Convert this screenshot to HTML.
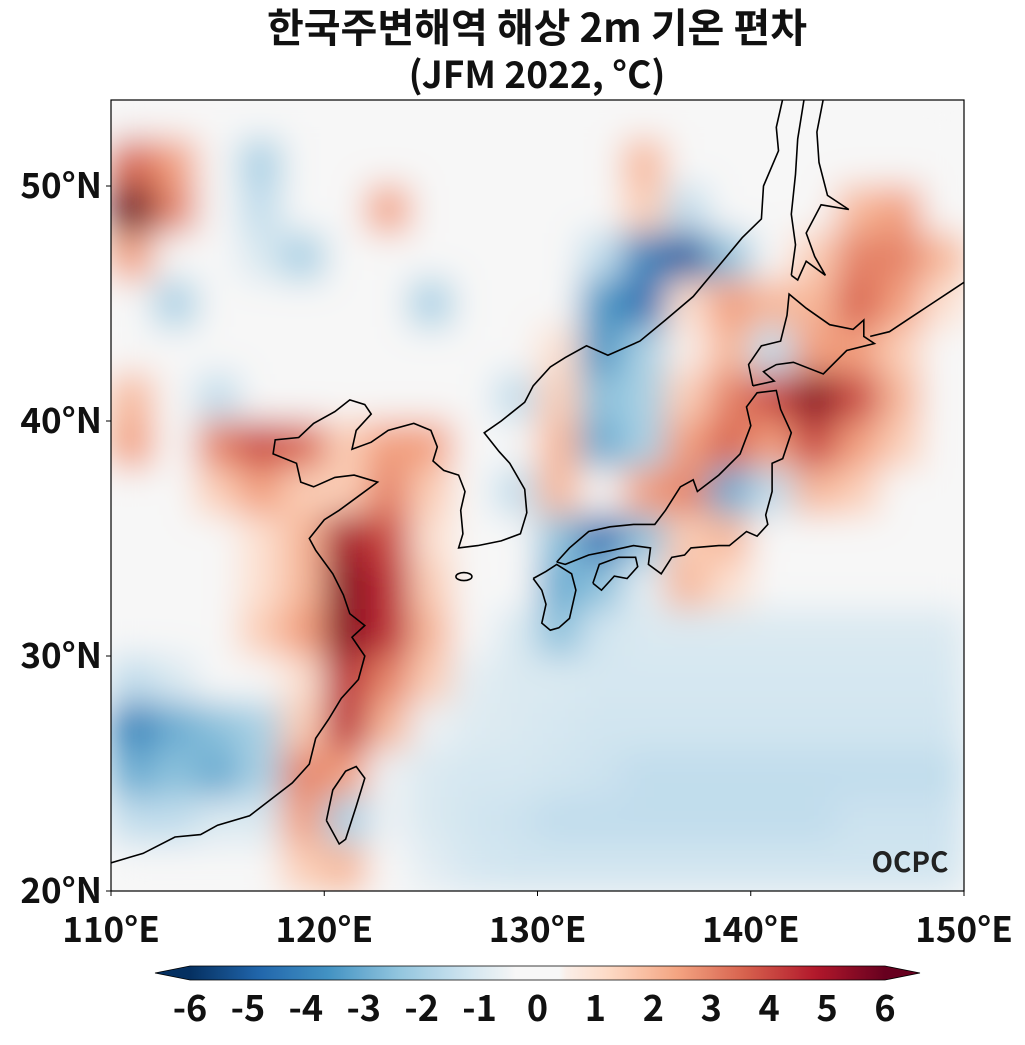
<!DOCTYPE html>
<html><head><meta charset="utf-8"><style>
body{margin:0;background:#fff;}
svg text{font-family:"Noto Sans CJK KR","Liberation Sans",sans-serif;font-weight:bold;fill:#111;}
</style></head><body>
<svg id="chart" width="1025" height="1040" viewBox="0 0 1025 1040" xmlns="http://www.w3.org/2000/svg">
<defs>
<clipPath id="mapclip"><rect x="111" y="100" width="853" height="791"/></clipPath>
<filter id="blur" x="0" y="0" width="1" height="1"><feGaussianBlur stdDeviation="17" edgeMode="duplicate"/></filter>
<linearGradient id="cbgrad" x1="0" x2="1" y1="0" y2="0"></linearGradient>
</defs>
<text x="537" y="42" text-anchor="middle" font-size="40">한국주변해역 해상 2m 기온 편차</text>
<text x="537" y="88" text-anchor="middle" font-size="37">(JFM 2022, °C)</text>
<g clip-path="url(#mapclip)">
<rect x="111" y="100" width="853" height="791" fill="#f7f7f7"/>
<g id="cells" filter="url(#blur)"></g>
<g id="coast" fill="none" stroke="#000" stroke-width="1.6"></g>
</g>
<rect x="111" y="100" width="853" height="791" fill="none" stroke="#000" stroke-width="1.2"/>
<text x="910" y="872" text-anchor="middle" font-size="28" style="fill:#222">OCPC</text>
<g id="axes"></g>
<g id="colorbar"></g>
</svg>
<script>
const lonTicks=[110,120,130,140,150];
const latTicks=[20,30,40,50];
const cbTicks=[-6,-5,-4,-3,-2,-1,0,1,2,3,4,5,6];
const gridLons=[111,113,115,117,119,121,123,125,127,129,131,133,135,137,139,141,143,145,147,149];
const gridLats=[53,51,49,47,45,43,41,39,37,35,33,31,29,27,25,23,21];
const anomaly=[
[0,0,0,0,0,0,0,0,0,0,0,0,0,0,0,0,0,0,0,0],
[3.5,2.5,0,-2,0,0,0,0,0,0,0,0,2,0,0,0,0,0,0,0],
[6,3,0,-1.5,0,0,2.5,0,0,0,0,0,1.5,-1.5,0,0,0,2,2.5,0],
[2.5,0,0,-1,-2,0,0,0,0,0,0,-1.5,-4,-5,-2.5,0,1.5,3,3,2],
[0,-2,0,0,0,0,0,-2,0,0,0,-3.5,-4.5,1,2.5,2,2,3.5,2.5,1],
[0,0,0,0,0,0,0,0,0,0,1,-3.5,-2,0.5,2,-1.5,2.5,2.5,1.5,0],
[2,0,-1.5,0,0,0,0,0,0,-1.5,1.5,-2.5,-2,1.5,3,4,5.5,4,2,0],
[2.5,0,3,4,3.5,1.5,2.5,2.5,0,0,2,-3,-2,2.5,3.5,2.5,4,2.5,1.5,0],
[0,0,1.5,2.5,1.5,1.5,3,1.5,0,-1.5,2,0,2.5,3,-3,-1.5,2,1.5,0,0],
[0,0,0,1,2,5,4,1,0,0,-2.5,-4.5,-2.5,1.5,2,0,0,0,0,0],
[0,0,0,1,2,5.5,4.5,1.5,0,0,-3,-2.5,-0.8,2,1,0,0,0,0,0],
[0,0,0,1.5,2.5,5.5,4.5,2,0,-1,-2.5,-1.2,-1,-1,-1,-1,-1,-1,-1,-1],
[-1.5,-1,0,0,1,4.5,3,1.5,-0.8,-1,-1,-1.1,-1.1,-1.1,-1.1,-1.1,-1.1,-1.1,-1.1,-1.1],
[-4,-3,-2.5,-2,1.5,4.5,2,-0.6,-0.9,-1,-1.1,-1.2,-1.2,-1.2,-1.2,-1.2,-1.2,-1.2,-1.2,-1.2],
[-3,-2.5,-3,-2,3,2.5,-0.6,-1,-1.1,-1.1,-1.2,-1.3,-1.5,-1.5,-1.5,-1.5,-1.5,-1.5,-1.5,-1.5],
[-1.5,-1.5,-1,-1,2.5,-2,-0.6,-1,-1.2,-1.3,-1.5,-1.5,-1.5,-1.5,-1.5,-1.5,-1.5,-1.3,-1.3,-1.3],
[0,0,0,0,1.5,2,0,-0.8,-1.1,-1.2,-1.2,-1.2,-1.2,-1.2,-1.2,-1.2,-1.2,-1.2,-1.2,-1.2]
];
const X0=111,X1=964,Y0=100,Y1=891,LON0=110,LON1=150,LAT0=20,LAT1=53.66;
function xOf(lon){return X0+(lon-LON0)/(LON1-LON0)*(X1-X0);}
function yOf(lat){return Y1-(lat-LAT0)/(LAT1-LAT0)*(Y1-Y0);}
const stops=[[-6,[5,48,97]],[-4.8,[33,102,172]],[-3.6,[67,147,195]],[-2.4,[146,197,222]],[-1.2,[209,229,240]],[-0.5,[240,243,245]],[-0.4,[247,247,247]],[0.4,[247,247,247]],[0.5,[250,238,232]],[1.2,[253,219,199]],[2.4,[244,165,130]],[3.6,[214,96,77]],[4.8,[178,24,43]],[6,[103,0,31]]];
function color(v){v=Math.max(-6,Math.min(6,v));for(let i=0;i<stops.length-1;i++){const a=stops[i],b=stops[i+1];if(v<=b[0]){const t=(v-a[0])/(b[0]-a[0]);const c=a[1].map((q,k)=>Math.round(q+(b[1][k]-q)*t));return `rgb(${c[0]},${c[1]},${c[2]})`;}}return 'rgb(103,0,31)';}
const NS='http://www.w3.org/2000/svg';
function mk(tag,attrs,parent){const e=document.createElementNS(NS,tag);for(const k in attrs)e.setAttribute(k,attrs[k]);parent.appendChild(e);return e;}
const cells=document.getElementById('cells');
gridLats.forEach((lat,r)=>gridLons.forEach((lon,c)=>{
 const x=xOf(lon-1),y=yOf(lat+1);
 const el=mk('rect',{x:x,y:y,width:xOf(lon+1)-x+0.5,height:yOf(lat-1)-y+0.5,fill:color(anomaly[r][c])},cells);
 
 
}));
const coastlines={
 mainland:[[109,20.5],[110,21.2],[111.5,21.6],[113,22.3],[114.2,22.4],[115,22.8],[116.5,23.2],[117.5,23.9],[118.5,24.6],[119.3,25.4],[119.6,26.5],[120.2,27.3],[120.8,28.2],[121.6,29],[121.9,30],[121.3,30.8],[121.9,31.3],[121.2,31.8],[120.9,32.6],[120.4,33.5],[119.6,34.5],[119.3,35],[120,35.8],[120.7,36.2],[121.6,36.8],[122.5,37.4],[121.4,37.7],[120.5,37.6],[119.5,37.2],[118.9,37.4],[118.7,38.2],[117.6,38.6],[117.7,39.2],[118.8,39.3],[119.5,39.9],[120.5,40.4],[121.2,40.9],[121.9,40.7],[122.2,40.3],[121.5,39.6],[121.3,38.8],[122.2,39.1],[123,39.6],[124.2,39.9],[125,39.6],[125.3,38.9],[125.1,38.3],[125.6,37.9],[126.3,37.7],[126.6,37],[126.4,36.2],[126.5,35.2],[126.3,34.6],[127.2,34.7],[128.3,34.9],[129.2,35.2],[129.5,36.1],[129.4,37.1],[128.7,38.2],[128.2,38.7],[127.5,39.5],[128.3,40],[129.4,40.8],[129.8,41.5],[130.6,42.3],[131.3,42.7],[132.3,43.2],[133.3,42.8],[134.8,43.4],[136,44.3],[137.3,45.3],[138.5,46.6],[139.6,47.8],[140.5,48.6],[140.6,50],[141.3,51.5],[141.2,52.5],[141.5,53.7]],
 sakhalin:[[141.9,46.2],[142.1,47.5],[141.9,48.8],[142.1,50.5],[142.2,52],[142.5,53.7],[143.4,53.7],[143.1,52.3],[143.2,51],[143.6,49.6],[144.6,49],[143.3,49.2],[142.6,48],[143,47],[143.5,46.2],[142.6,46.8],[142.2,46],[141.9,46.2]],
 hokkaido:[[140.1,41.5],[139.9,42.4],[140.5,43.2],[141.4,43.4],[141.7,44.5],[141.8,45.4],[142.6,44.8],[143.7,44.1],[144.8,43.9],[145.3,44.3],[145.3,43.6],[145.8,43.3],[144.5,43],[143.4,42],[142,42.5],[141.2,42.4],[140.6,42.1],[141.1,41.7],[140.1,41.5]],
 honshu:[[130.9,34],[131.5,34.6],[132.4,35.3],[133.4,35.5],[134.5,35.6],[135.5,35.6],[136,36.2],[136.7,37.2],[137.3,37.5],[137.5,37],[138.5,37.7],[139.5,38.6],[140,39.8],[139.8,40.6],[140.3,41.2],[141.2,41.3],[141.4,40.5],[141.9,39.5],[141.5,38.4],[141,38.2],[141,37],[140.7,36],[140.8,35.6],[140.3,35.1],[139.8,35.3],[139,34.7],[138.5,34.7],[137.2,34.6],[136.9,34.3],[136.3,34.2],[135.8,33.5],[135.2,33.9],[135.3,34.6],[134.5,34.7],[133.5,34.5],[132.4,34.3],[131.3,33.9],[130.9,34]],
 kyushu:[[129.8,33.3],[130.4,33.6],[130.9,33.9],[131.6,33.5],[131.8,32.8],[131.5,31.6],[131,31.2],[130.6,31.1],[130.2,31.4],[130.4,32.2],[130.2,32.8],[129.8,33.3]],
 shikoku:[[132.6,33.1],[132.9,33.9],[133.8,34.2],[134.6,34.2],[134.7,33.8],[134.2,33.3],[133.6,33.4],[133,32.8],[132.6,33.1]],
 taiwan:[[120.1,23],[120.7,22],[121,22.2],[121.5,23.6],[121.9,24.8],[121.5,25.3],[121,25.1],[120.4,24.3],[120.1,23]],
 kurils:[[145.6,43.6],[146.5,43.8],[147.5,44.4],[148.5,45],[149.5,45.6],[150.5,46.2]]
};
const coast=document.getElementById('coast');
for(const k in coastlines){
 const d=coastlines[k].map((p,i)=>(i?'L':'M')+xOf(p[0]).toFixed(1)+','+yOf(p[1]).toFixed(1)).join('');
 const el=mk('path',{d:d},coast);
 
 
}
const jeju=mk('ellipse',{cx:xOf(126.55),cy:yOf(33.38),rx:8,ry:4},coast);


const axes=document.getElementById('axes');
lonTicks.forEach(l=>{
 mk('line',{x1:xOf(l),x2:xOf(l),y1:Y1,y2:Y1+5,stroke:'#000'},axes);
 const t=mk('text',{x:xOf(l),y:942,'text-anchor':'middle','font-size':35},axes);
 t.textContent=l+'°E';
 
 
});
latTicks.forEach(l=>{
 mk('line',{x1:X0-5,x2:X0,y1:yOf(l),y2:yOf(l),stroke:'#000'},axes);
 const t=mk('text',{x:102,y:yOf(l)+12,'text-anchor':'end','font-size':35},axes);
 t.textContent=l+'°N';
 
 
});
const grad=document.getElementById('cbgrad');
for(let i=0;i<=96;i++){const v=-6+i*0.125;mk('stop',{offset:(i/96),'stop-color':color(v)},grad);}
const cb=document.getElementById('colorbar');
const CB0=190,CB1=885,CBY=966,CBH=14;
function cbx(v){return CB0+(v+6)/12*(CB1-CB0);}
const bar=mk('rect',{x:CB0,y:CBY,width:CB1-CB0,height:CBH,fill:'url(#cbgrad)'},cb);


const lt=mk('polygon',{points:`${CB0},${CBY} ${CB0},${CBY+CBH} 155,${CBY+CBH/2}`,fill:color(-6)},cb);


const rt=mk('polygon',{points:`${CB1},${CBY} ${CB1},${CBY+CBH} 920,${CBY+CBH/2}`,fill:color(6)},cb);


mk('polygon',{points:`155,${CBY+CBH/2} ${CB0},${CBY} ${CB1},${CBY} 920,${CBY+CBH/2} ${CB1},${CBY+CBH} ${CB0},${CBY+CBH}`,fill:'none',stroke:'#000','stroke-width':0.8},cb);
cbTicks.forEach(v=>{
 const t=mk('text',{x:cbx(v),y:1021,'text-anchor':'middle','font-size':36},cb);
 t.textContent=v;
 
 
});
</script>
</body></html>
